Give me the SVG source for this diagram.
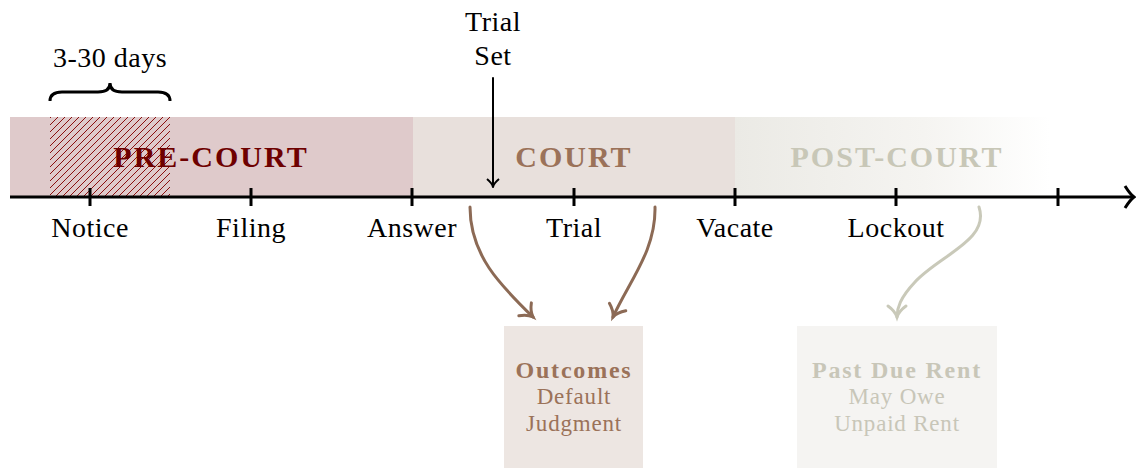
<svg xmlns="http://www.w3.org/2000/svg" width="1136" height="468" viewBox="0 0 1136 468">
<style>
.lbl{font-family:"Liberation Serif","DejaVu Serif",serif;font-size:28px;fill:#000;text-anchor:middle;letter-spacing:0.5px}
.band{font-family:"Liberation Serif","DejaVu Serif",serif;font-size:30px;font-weight:bold;text-anchor:middle;letter-spacing:2px}
.box{font-family:"Liberation Serif","DejaVu Serif",serif;font-size:23px;text-anchor:middle;letter-spacing:0.8px}
.boxb{font-family:"Liberation Serif","DejaVu Serif",serif;font-size:24px;font-weight:bold;text-anchor:middle;letter-spacing:1.8px}
.ax{stroke:#000;stroke-width:3;fill:none}
</style>
<defs>
<pattern id="hatch" patternUnits="userSpaceOnUse" width="7" height="7">
<path d="M-1,8 L8,-1 M-2,2 L2,-2 M5,9 L9,5" stroke="#8a0f0f" stroke-width="1"/>
</pattern>
<linearGradient id="postg" x1="0" x2="1" y1="0" y2="0">
<stop offset="0" stop-color="#ebeae5"/>
<stop offset="0.6" stop-color="#f5f4f1"/>
<stop offset="1" stop-color="#ffffff"/>
</linearGradient>
<marker id="blk" markerWidth="14" markerHeight="14" refX="10" refY="7" orient="auto" markerUnits="userSpaceOnUse">
<path d="M2,1 Q6,6 10,7 Q6,8 2,13" fill="none" stroke="#000" stroke-width="2"/>
</marker>
<marker id="brn" markerWidth="22" markerHeight="22" refX="15" refY="11" orient="auto" markerUnits="userSpaceOnUse">
<path d="M4,2 Q9,9 15,11 Q9,13 4,20" fill="none" stroke="#8c6a55" stroke-width="3" stroke-linecap="round"/>
</marker>
<marker id="gry" markerWidth="22" markerHeight="22" refX="15" refY="11" orient="auto" markerUnits="userSpaceOnUse">
<path d="M4,2 Q9,9 15,11 Q9,13 4,20" fill="none" stroke="#c9c9b9" stroke-width="3" stroke-linecap="round"/>
</marker>
</defs>
<rect width="1136" height="468" fill="#fff"/>
<g id="pre-court">
<rect x="10" y="117" width="403" height="80" fill="#dfcacb"/>
<rect x="50" y="117" width="120" height="80" fill="url(#hatch)"/>
<text class="band" x="211" y="167" fill="#6e0000">PRE-COURT</text>
</g>
<g id="court">
<rect x="413" y="117" width="322" height="80" fill="#e8e0dc"/>
<text class="band" x="574" y="167" fill="#9b7259">COURT</text>
</g>
<g id="post-court">
<rect x="735" y="117" width="315" height="80" fill="url(#postg)"/>
<text class="band" x="897" y="167" fill="#c8c7b7">POST-COURT</text>
</g>
<g id="brace">
<path d="M50,101 Q50,92 62,92 L98,92 Q110,92 110,83 Q110,92 122,92 L158,92 Q170,92 170,101" fill="none" stroke="#000" stroke-width="3"/>
<text class="lbl" x="110" y="67">3-30 days</text>
</g>
<g id="timeline">
<line class="ax" x1="10" y1="197" x2="1132" y2="197"/>
<path d="M1125,186 Q1130,194 1134,197 Q1130,200 1125,208" fill="none" stroke="#000" stroke-width="3"/>
<path class="ax" d="M90,188V206 M251,188V206 M412,188V206 M574,188V206 M735,188V206 M896,188V206 M1058,188V206"/>
<text class="lbl" x="90" y="237">Notice</text>
<text class="lbl" x="251" y="237">Filing</text>
<text class="lbl" x="412" y="237">Answer</text>
<text class="lbl" x="574" y="237">Trial</text>
<text class="lbl" x="735" y="237">Vacate</text>
<text class="lbl" x="896" y="237">Lockout</text>
</g>
<g id="trial-set">
<text class="lbl" x="493" y="31">Trial</text>
<text class="lbl" x="493" y="65">Set</text>
</g>
<g id="outcomes">
<rect x="504" y="326" width="139" height="142" fill="#ede6e2"/>
<text class="boxb" x="574" y="378" fill="#9b7259">Outcomes</text>
<text class="box" x="574" y="404" fill="#9b7259">Default</text>
<text class="box" x="574" y="431" fill="#9b7259">Judgment</text>
</g>
<g id="past-due">
<rect x="797" y="326" width="200" height="142" fill="#f5f4f2"/>
<text class="boxb" x="897" y="378" fill="#c8c6b8">Past Due Rent</text>
<text class="box" x="897" y="404" fill="#c8c6b8">May Owe</text>
<text class="box" x="897" y="431" fill="#c8c6b8">Unpaid Rent</text>
</g>
<g id="connectors" fill="none" stroke-width="3" stroke-linecap="round">
<path d="M493,78 L493,187" stroke="#000" stroke-width="2" marker-end="url(#blk)"/>
<path d="M470,207 C470,255 500,285 533,317" stroke="#8c6a55" marker-end="url(#brn)"/>
<path d="M655,207 C656,250 630,280 613,317" stroke="#8c6a55" marker-end="url(#brn)"/>
<path d="M979,207 C990,240 940,255 915,282 C900,298 897,308 897,317" stroke="#c9c9b9" marker-end="url(#gry)"/>
</g>
</svg>
